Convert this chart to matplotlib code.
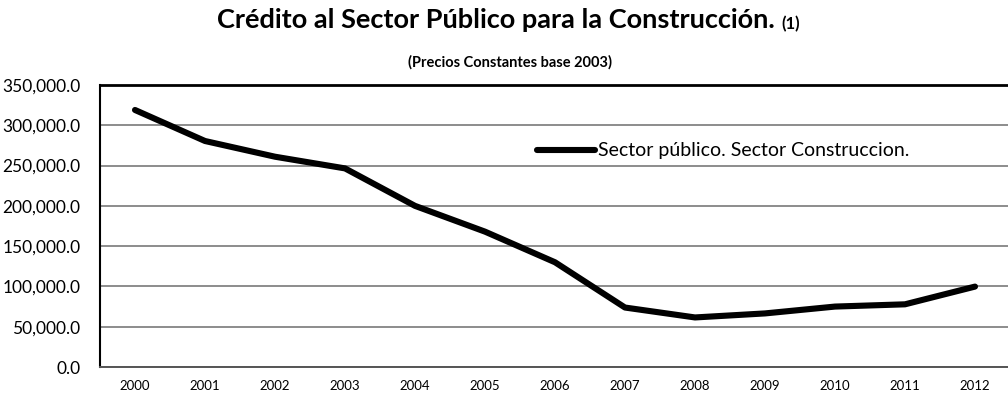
import numpy as np
import matplotlib
matplotlib.use("Agg")
import matplotlib.pyplot as plt
from matplotlib.ticker import FuncFormatter

# credito al sector publico, construccion (precios constantes base 2003)
years = [2000, 2001, 2002, 2003, 2004, 2005, 2006, 2007, 2008, 2009, 2010, 2011, 2012]
credito = [319000, 280500, 261000, 246500, 200000, 168000, 130000,
           73800, 61500, 66500, 75000, 77800, 99800]
serie = "Sector público. Sector Construccion."

plt.rcParams['font.family'] = ['Lato', 'DejaVu Sans']

fig = plt.figure(figsize=(10.08, 3.96), dpi=100)
ax = fig.add_axes([100/1008, 1 - 367/396, 910/1008, 282/396])

ax.plot(years, credito, color='black', lw=4.4, solid_capstyle='round',
        solid_joinstyle='round', label=serie, zorder=3)

ax.set_xlim(1999.5, 2012.5)
ax.set_ylim(0, 350000)
ax.set_xticks(years)
ax.set_yticks(np.arange(0, 350001, 50000))
ax.yaxis.set_major_formatter(FuncFormatter(lambda v, p: f"{v:,.1f}"))
ax.grid(axis='y', color='#8c8c8c', lw=1.4, zorder=0)
ax.tick_params(axis='y', length=0, pad=14, labelsize=12.5)
ax.tick_params(axis='x', length=0, pad=9, labelsize=9.5)

ax.spines['right'].set_visible(False)
ax.spines['top'].set_linewidth(2)
ax.spines['left'].set_linewidth(1.5)
ax.spines['bottom'].set_linewidth(1.4)
ax.spines['bottom'].set_color('#555555')

ax.legend(loc='center left', bbox_to_anchor=(537/1008, 1 - 151/396),
          bbox_transform=fig.transFigure, frameon=False, fontsize=14,
          handlelength=3.0, handletextpad=0.12, borderpad=0, borderaxespad=0)

t = fig.text(217/1008, 1 - 28/396, "Crédito al Sector Público para la Construcción.",
             fontsize=19.5, fontweight='bold', ha='left', va='baseline')
ax.annotate("(1)", xy=(1, 0), xycoords=t, xytext=(5, 0), textcoords='offset points',
            fontsize=12, fontweight='bold', va='bottom')
fig.text(510/1008, 1 - 67/396, "(Precios Constantes base 2003)",
         fontsize=10.5, fontweight='bold', ha='center', va='baseline')

fig.savefig("out.png", dpi=100)
